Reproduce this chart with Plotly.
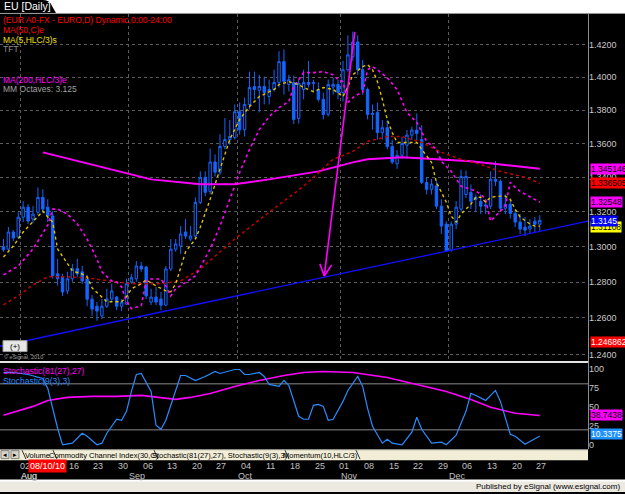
import numpy as np
import pandas as pd
import plotly.graph_objects as go

W, H = 625, 494

# ---------------- data ----------------
dates = pd.bdate_range("2010-07-27", "2010-12-27")   # 110 daily bars
bar = list(range(len(dates)))

opens = [1.2999,1.2985,1.3083,1.3055,1.3168,1.3226,1.3157,1.3197,1.3283,1.3226,
         1.3175,1.2846,1.2829,1.2750,1.2818,1.2875,1.2857,1.2818,1.2704,1.2665,
         1.2612,1.2665,1.2705,1.2716,1.2665,1.2677,1.2800,1.2818,1.2890,1.2884,
         1.2688,1.2716,1.2705,1.2671,1.2873,1.2985,1.3003,1.3083,1.3043,1.3060,
         1.3254,1.3400,1.3318,1.3490,1.3430,1.3582,1.3623,1.3635,1.3790,1.3682,
         1.3834,1.3943,1.3920,1.3943,1.3883,1.3925,1.3968,1.4096,1.3956,1.3968,
         1.3750,1.3925,1.3968,1.3962,1.3925,1.3865,1.3774,1.3940,1.3956,1.3907,
         1.4046,1.4126,1.4218,1.4046,1.3925,1.3774,1.3786,1.3665,1.3694,1.3582,
         1.3480,1.3530,1.3590,1.3650,1.3680,1.3623,1.3370,1.3330,1.3350,1.3232,
         1.3128,1.2980,1.3128,1.3215,1.3300,1.3311,1.3283,1.3260,1.3232,1.3232,
         1.3388,1.3377,1.3220,1.3243,1.3190,1.3140,1.3111,1.3100,1.3145,1.3128]
highs = [1.3043,1.3112,1.3094,1.3197,1.3261,1.3244,1.3232,1.3341,1.3330,1.3272,
         1.3203,1.2930,1.2846,1.2857,1.2902,1.2930,1.2890,1.2840,1.2727,1.2688,
         1.2705,1.2762,1.2790,1.2722,1.2705,1.2818,1.2846,1.2918,1.2913,1.2890,
         1.2762,1.2772,1.2744,1.2890,1.3043,1.3043,1.3117,1.3157,1.3117,1.3283,
         1.3435,1.3435,1.3570,1.3535,1.3655,1.3752,1.3740,1.3834,1.3846,1.3876,
         1.4034,1.4034,1.4015,1.4003,1.3985,1.4046,1.4160,1.4172,1.4015,1.4010,
         1.3985,1.4046,1.4100,1.3985,1.3968,1.3907,1.3985,1.3997,1.3985,1.4100,
         1.4259,1.4282,1.4259,1.4107,1.3937,1.3834,1.3846,1.3740,1.3740,1.3623,
         1.3560,1.3640,1.3680,1.3700,1.3780,1.3710,1.3400,1.3390,1.3377,1.3272,
         1.3145,1.3145,1.3261,1.3445,1.3440,1.3358,1.3300,1.3300,1.3272,1.3435,
         1.3495,1.3388,1.3300,1.3272,1.3214,1.3186,1.3169,1.3157,1.3169,1.3180]
lows = [1.2970,1.2975,1.3032,1.3043,1.3140,1.3128,1.3134,1.3180,1.3192,1.3140,
        1.2818,1.2779,1.2722,1.2733,1.2801,1.2829,1.2790,1.2665,1.2612,1.2585,
        1.2595,1.2655,1.2688,1.2643,1.2638,1.2671,1.2790,1.2801,1.2857,1.2705,
        1.2671,1.2671,1.2643,1.2665,1.2862,1.2970,1.2958,1.3043,1.3032,1.3043,
        1.3243,1.3290,1.3300,1.3405,1.3412,1.3565,1.3594,1.3623,1.3653,1.3641,
        1.3804,1.3865,1.3786,1.3834,1.3834,1.3913,1.3937,1.3894,1.3913,1.3716,
        1.3720,1.3865,1.3937,1.3913,1.3852,1.3744,1.3762,1.3894,1.3865,1.3852,
        1.4034,1.4100,1.4015,1.3894,1.3744,1.3682,1.3623,1.3623,1.3565,1.3477,
        1.3450,1.3510,1.3510,1.3620,1.3620,1.3360,1.3300,1.3300,1.3215,1.3072,
        1.2970,1.2970,1.3100,1.3200,1.3280,1.3215,1.3200,1.3186,1.3186,1.3215,
        1.3350,1.3200,1.3186,1.3160,1.3111,1.3072,1.3060,1.3072,1.3083,1.3082]
closes = [1.2982,1.3083,1.3049,1.3168,1.3226,1.3146,1.3186,1.3283,1.3215,1.3175,
          1.2835,1.2818,1.2744,1.2818,1.2875,1.2846,1.2806,1.2704,1.2649,1.2638,
          1.2665,1.2705,1.2750,1.2665,1.2688,1.2790,1.2824,1.2890,1.2873,1.2722,
          1.2716,1.2688,1.2671,1.2873,1.2985,1.3015,1.3072,1.3060,1.3060,1.3254,
          1.3400,1.3312,1.3490,1.3430,1.3582,1.3623,1.3641,1.3790,1.3682,1.3834,
          1.3937,1.3925,1.3943,1.3907,1.3925,1.3968,1.4096,1.3975,1.3985,1.3744,
          1.3962,1.3968,1.3956,1.3968,1.3865,1.3774,1.3956,1.3956,1.3907,1.4046,
          1.4138,1.4218,1.4046,1.3925,1.3774,1.3780,1.3665,1.3694,1.3582,1.3490,
          1.3530,1.3600,1.3650,1.3680,1.3660,1.3370,1.3330,1.3360,1.3232,1.3117,
          1.2975,1.3128,1.3226,1.3405,1.3405,1.3260,1.3272,1.3232,1.3238,1.3388,
          1.3377,1.3220,1.3243,1.3190,1.3140,1.3100,1.3094,1.3117,1.3128,1.3150]

ma5_bar = [0,2,4,6,8,9,10,11,13,14,16,17,18,20,21,22,24,25,26,28,29,30,31,33,34,35,36,37,39,40,
           42,44,46,48,50,52,55,56,58,60,61,63,64,65,67,68,69,70,71,73,74,75,76,77,78,79,80,82,84,85,
           87,88,90,91,92,93,95,96,97,98,99,101,102,103,104,105,107,108,109]
ma5_val = [1.2941,1.3003,1.3083,1.3140,1.3203,1.3169,1.3140,1.2986,1.2902,1.2862,1.2845,1.2829,1.2767,1.2717,1.2690,
           1.2690,1.2690,1.2717,1.2762,1.2790,1.2812,1.2795,1.2778,1.2750,1.2745,1.2790,1.2885,1.2970,1.3043,1.3111,
           1.3272,1.3447,1.3624,1.3744,1.3822,1.3882,1.3925,1.3955,1.3973,1.3955,1.3937,1.3912,1.3925,1.3937,1.3925,
           1.3906,1.3882,1.3943,1.4015,1.4065,1.4077,1.4046,1.3973,1.3864,1.3744,1.3665,1.3606,1.3606,1.3606,1.3565,
           1.3488,1.3371,1.3255,1.3174,1.3140,1.3186,1.3243,1.3284,1.3284,1.3255,1.3284,1.3290,1.3290,1.3272,1.3214,
           1.3169,1.3129,1.3117,1.3117]

tft_bar = [0,3,6,8,9,10,11,13,15,17,19,20,22,23,24,25,26,28,29,30,32,33,34,35,37,39,40,42,44,46,
           48,50,52,54,56,58,59,61,63,65,67,68,69,70,71,72,73,74,75,76,78,80,81,82,84,85,86,88,89,91,
           92,93,95,96,97,98,99,100,101,102,103,104,105,106,108,109]
tft_val = [1.2840,1.2890,1.2986,1.3072,1.3123,1.3215,1.3215,1.3186,1.3129,1.3043,1.2930,1.2857,1.2806,1.2800,1.2773,
           1.2690,1.2651,1.2668,1.2806,1.2817,1.2817,1.2778,1.2722,1.2762,1.2800,1.2834,1.2884,1.2986,1.3117,1.3272,
           1.3429,1.3565,1.3683,1.3761,1.3815,1.3852,1.3943,1.4028,1.4028,1.4034,1.4015,1.3985,1.3973,1.3846,1.3876,
           1.3894,1.3906,1.4046,1.4065,1.4046,1.3997,1.3925,1.3858,1.3785,1.3726,1.3666,1.3612,1.3565,1.3494,1.3435,
           1.3388,1.3348,1.3330,1.3319,1.3301,1.3272,1.3146,1.3174,1.3203,1.3232,1.3371,1.3341,1.3318,1.3301,1.3272,
           1.3255]

ma50_bar = [0,3,6,9,13,17,20,23,26,32,36,40,47,54,61,67,71,74,78,81,85,89,93,97,101,106,109]
ma50_val = [1.2673,1.2723,1.2784,1.2829,1.2829,1.2823,1.2812,1.2800,1.2790,1.2790,1.2806,1.2873,1.3043,1.3197,
            1.3348,1.3506,1.3553,1.3612,1.3641,1.3641,1.3606,1.3547,1.3506,1.3476,1.3435,1.3400,1.3365]

ma200_bar = [8,20,30,40,47,54,64,71,74,81,88,95,101,109]
ma200_val = [1.3547,1.3459,1.3388,1.3359,1.3359,1.3388,1.3435,1.3488,1.3506,1.3518,1.3506,1.3494,1.3476,1.3451]

slow_bar = [0,6,9,13,18,23,28,31,35,38,42,47,52,57,61,65,71,78,84,90,95,99,104,109]
slow_val = [39.0,50.6,58.4,62.3,63.6,63.6,64.9,62.3,59.7,62.3,67.5,76.6,84.4,90.9,94.8,96.1,94.8,88.3,79.2,70.1,
            59.7,49.4,41.6,38.7]

fast_bar = [0,2,5,8,9,10,11,12,14,16,17,19,20,21,23,24,25,26,27,28,30,31,32,33,35,36,37,39,41,43,
            44,47,48,49,50,52,53,54,56,57,58,59,60,61,62,63,64,65,66,67,69,70,72,73,74,75,77,78,79,81,
            83,84,85,87,89,90,92,94,95,96,98,100,101,103,104,106,107,109]
fast_val = [94.8,94.8,92.2,87.0,74.0,48.1,22.1,0.5,2.6,15.6,11.7,0.5,2.6,15.6,33.8,32.5,44.2,70.1,92.2,93.5,
            70.1,26.0,20.8,32.5,70.1,90.9,90.9,84.4,89.6,96.1,93.5,98.7,98.7,92.2,92.2,94.8,89.6,79.2,76.6,84.4,
            77.9,57.1,37.7,33.8,33.8,51.9,53.2,50.6,32.5,33.8,57.1,71.4,89.6,76.6,48.1,24.7,2.6,7.8,2.6,0.5,
            16.9,36.4,20.8,2.6,3.9,0.5,13.0,44.2,67.5,64.9,58.4,71.4,57.1,14.3,11.7,1.3,5.2,12.0]

trend_bar = [-0.71, 118.8]
trend_val = [1.2445, 1.3146]
arrow_bar = [71.4, 65.2]
arrow_val = [1.4281, 1.2834]
arrowhead_bar = [64.3, 65.2, 66.7]
arrowhead_val = [1.2902, 1.2834, 1.2896]

price_ticks = [1.24, 1.26, 1.28, 1.30, 1.32, 1.34, 1.36, 1.38, 1.40, 1.42]
price_tick_text = ["%.4f" % p for p in price_ticks]
stoch_ticks = [0, 25, 50, 75, 100]
stoch_levels = [80, 20]

# ---------------- helpers ----------------
def px(x):
    return x / W

def py(y):
    return 1 - y / H

FONT = "Arial, Liberation Sans, sans-serif"
CANDLE = "#1466ff"
XR = [-0.71, 118.8]

fig = go.Figure()

fig.add_trace(go.Candlestick(
    x=bar, open=opens, high=highs, low=lows, close=closes,
    increasing=dict(line=dict(color=CANDLE, width=1), fillcolor="#000000"),
    decreasing=dict(line=dict(color=CANDLE, width=1), fillcolor=CANDLE),
    whiskerwidth=0, xaxis="x", yaxis="y", hoverinfo="skip"))

fig.add_trace(go.Scatter(x=trend_bar, y=trend_val, mode="lines",
                         line=dict(color="#1010ff", width=1.3), xaxis="x", yaxis="y"))
fig.add_trace(go.Scatter(x=ma200_bar, y=ma200_val, mode="lines",
                         line=dict(color="#ff00ff", width=2), xaxis="x", yaxis="y"))
fig.add_trace(go.Scatter(x=ma50_bar, y=ma50_val, mode="lines",
                         line=dict(color="#c80000", width=1.5, dash="dot"), xaxis="x", yaxis="y"))
fig.add_trace(go.Scatter(x=tft_bar, y=tft_val, mode="lines",
                         line=dict(color="#ff00ff", width=1.6, dash="dot"), xaxis="x", yaxis="y"))
fig.add_trace(go.Scatter(x=ma5_bar, y=ma5_val, mode="lines",
                         line=dict(color="#e0c000", width=1.4, dash="dot"), xaxis="x", yaxis="y"))
fig.add_trace(go.Scatter(x=arrow_bar, y=arrow_val, mode="lines",
                         line=dict(color="#ff00ff", width=1.6), xaxis="x", yaxis="y"))
fig.add_trace(go.Scatter(x=arrowhead_bar, y=arrowhead_val, mode="lines",
                         line=dict(color="#ff00ff", width=1.6), xaxis="x", yaxis="y"))

fig.add_trace(go.Scatter(x=slow_bar, y=slow_val, mode="lines",
                         line=dict(color="#ff00ff", width=1.6), xaxis="x2", yaxis="y2"))
fig.add_trace(go.Scatter(x=fast_bar, y=fast_val, mode="lines",
                         line=dict(color="#2a8cff", width=1.2), xaxis="x2", yaxis="y2"))

month_start = [i for i in range(1, len(dates)) if dates[i].month != dates[i - 1].month]
mondays = [i for i in range(len(dates)) if dates[i].weekday() == 0]

fig.update_layout(
    width=W, height=H, margin=dict(l=0, r=0, t=0, b=0),
    paper_bgcolor="#000000", plot_bgcolor="#000000", showlegend=False,
    font=dict(family=FONT),
    xaxis=dict(domain=[0, px(588)], range=XR, anchor="y", showticklabels=False, ticks="",
               tickvals=[m - 0.5 for m in month_start], showgrid=True, gridcolor="#5c5c5c",
               griddash="dot", gridwidth=1, zeroline=False, showline=False,
               rangeslider=dict(visible=False)),
    yaxis=dict(type="log", domain=[py(362), py(14)], range=[0.092284, 0.158156], anchor="x",
               side="right", tickvals=price_ticks, ticktext=price_tick_text, ticks="",
               tickfont=dict(color="#c8c8c8", size=9, family=FONT),
               showgrid=True, gridcolor="#5c5c5c", griddash="dot", gridwidth=1, zeroline=False,
               showline=False),
    xaxis2=dict(domain=[0, px(588)], range=XR, anchor="y2", showticklabels=False, ticks="",
                showgrid=False, zeroline=False, showline=False),
    yaxis2=dict(domain=[py(450), py(365)], range=[-3.9, 106.5], anchor="x2", side="right",
                tickvals=stoch_ticks, ticktext=[str(v) for v in stoch_ticks], ticks="",
                tickfont=dict(color="#c8c8c8", size=9, family=FONT),
                showgrid=False, zeroline=False, showline=False),
)

shapes = []
def rect(x0, y0, x1, y1, fill, line=None):
    shapes.append(dict(type="rect", xref="paper", yref="paper", x0=px(x0), x1=px(x1),
                       y0=py(y1), y1=py(y0), fillcolor=fill,
                       line=dict(width=0) if line is None else dict(color=line, width=1),
                       layer="above"))
def hline(x0, x1, y, color, width=1):
    shapes.append(dict(type="line", xref="paper", yref="paper", x0=px(x0), x1=px(x1),
                       y0=py(y), y1=py(y), line=dict(color=color, width=width), layer="above"))
def vline(x, y0, y1, color, width=1):
    shapes.append(dict(type="line", xref="paper", yref="paper", x0=px(x), x1=px(x),
                       y0=py(y0), y1=py(y1), line=dict(color=color, width=width), layer="above"))

# stochastic guide levels
for lv in stoch_levels:
    shapes.append(dict(type="line", xref="paper", yref="y2", x0=0, x1=px(588), y0=lv, y1=lv,
                       line=dict(color="#8a8a8a", width=1), layer="below"))

# top white band and tab
rect(0, 0, 625, 13, "#ffffff")
shapes.append(dict(type="path", xref="paper", yref="paper",
                   path="M 0 1 L %f 1 Q %f 1 %f %f L %f %f L 0 %f Z" % (
                       px(42), px(50), px(52), py(6), px(56), py(13), py(13)),
                   fillcolor="#000000", line=dict(width=0), layer="above"))
hline(0, 625, 13.5, "#a0a0a0", 1)
# panel separators
hline(0, 588, 363.5, "#e4e4e4", 2)
vline(588.5, 14, 451, "#8c8c8c", 1)
# tab bar
rect(0, 451, 588, 462, "#f1edd6")
hline(0, 588, 451.5, "#808080", 1)
rect(1, 452.5, 9, 460.5, "#d8d4c8", "#808080")
rect(11, 452.5, 19, 460.5, "#d8d4c8", "#808080")
for xs in [22, 53, 154, 285, 356]:
    shapes.append(dict(type="line", xref="paper", yref="paper", x0=px(xs), x1=px(xs + 4),
                       y0=py(452), y1=py(461), line=dict(color="#303030", width=1), layer="above"))
# bottom band
rect(0, 482, 625, 494, "#ece9e0")
hline(0, 625, 482.5, "#ffffff", 2)
# (+) button
rect(3, 342, 27, 353, "#e6e6e6", "#a0a0a0")
fig.update_layout(shapes=shapes)

ann = []
def txt(x, y, s, color, size=8.5, anchor="left", bg=None, bold=False, xref="paper", yref="paper"):
    d = dict(xref=xref, yref=yref, x=x, y=y, text=("<b>%s</b>" % s) if bold else s,
             showarrow=False, xanchor=anchor, yanchor="middle",
             font=dict(family=FONT, size=size, color=color), borderpad=0)
    if bg is not None:
        d["bgcolor"] = bg
    ann.append(d)

def ptxt(x, y, s, color, size=8.5, anchor="left", bg=None, bold=False):
    txt(px(x), py(y), s, color, size, anchor, bg, bold)

ptxt(3, 6.5, "EU [Daily]", "#ffffff", 10.5)
ptxt(2, 20, "(EUR A0-FX - EURO,D) Dynamic,0:00-24:00", "#ff0000", 8.5)
ptxt(2, 30, "MA(50,C)e", "#ff0000", 8.5)
ptxt(2, 40, "MA(5,HLC/3)s", "#f0e000", 8.5)
ptxt(2, 49.5, "TFT", "#909090", 8.5)
ptxt(2, 80, "MA(200,HLC/3)e", "#ff00ff", 8.5)
ptxt(2, 89.5, "MM Octaves: 3.125", "#a0a0a0", 8.5)
ptxt(15, 347.5, "(+)", "#000000", 8, anchor="center")
ptxt(3, 358, "© eSignal, 2010", "#a0a0a0", 5.5)
ptxt(2, 373, "Stochastic(81(27),27)", "#ff00ff", 8.5)
ptxt(2, 382.5, "Stochastic(9(3),3)", "#2a8cff", 8.5)

# price value boxes on the right axis
def plabel(val, s, bg, fg):
    txt(px(589.5), float(np.log10(val)), s, fg, 8.5, "left", bg, xref="paper", yref="y")
plabel(1.345146, "1.345146", "#ff00ff", "#000000")
plabel(1.336505, "1.336505", "#ff0000", "#000000")
plabel(1.32548, "1.32548", "#ff00ff", "#000000")
plabel(1.3110, "1.31108", "#ffff00", "#000000")
plabel(1.3146, "1.3145", "#0000ff", "#ffffff")
plabel(1.246862, "1.246862", "#ff0000", "#ffffff")
txt(px(589.5), 38.7438, "38.7438", "#000000", 8.5, "left", "#ff00ff", xref="paper", yref="y2")
txt(px(589.5), 14.5, "10.3375", "#ffffff", 8.5, "left", "#1e90ff", xref="paper", yref="y2")

# tab names
ptxt(37, 457, "Volume", "#000000", 7.5, anchor="center")
ptxt(104, 457, "Commodity Channel Index(30,C)", "#000000", 7.5, anchor="center")
ptxt(220, 457, "Stochastic(81(27),27), Stochastic(9(3),3)", "#000000", 7.5, anchor="center")
ptxt(321, 457, "Momentum(10,HLC/3)", "#000000", 7.5, anchor="center")
ptxt(5, 456.5, "◂", "#000000", 7, anchor="center")
ptxt(15, 456.5, "▸", "#000000", 7, anchor="center")

# date axis labels
for i in mondays:
    if dates[i].month == 8 and dates[i].day == 9:
        continue
    ann.append(dict(xref="x2", yref="paper", x=i, y=py(468), text="%02d" % dates[i].day,
                    showarrow=False, xanchor="center", yanchor="middle", xshift=1.5,
                    font=dict(family=FONT, size=9, color="#c0c0c0")))
for i in [4] + month_start:
    ann.append(dict(xref="x2", yref="paper", x=i, y=py(478), text=dates[i].strftime("%b"),
                    showarrow=False, xanchor="left", yanchor="middle", xshift=-4,
                    font=dict(family=FONT, size=9, color="#c0c0c0")))
ann.append(dict(xref="x2", yref="paper", x=9, y=py(468), text="08/10/10", showarrow=False,
                xanchor="center", yanchor="middle", bgcolor="#ff0000", borderpad=1,
                font=dict(family=FONT, size=9, color="#ffffff")))

ptxt(621, 488.5, "Published by eSignal (www.esignal.com)", "#000000", 8, anchor="right")

fig.update_layout(annotations=ann)
fig.write_html("out.html")
